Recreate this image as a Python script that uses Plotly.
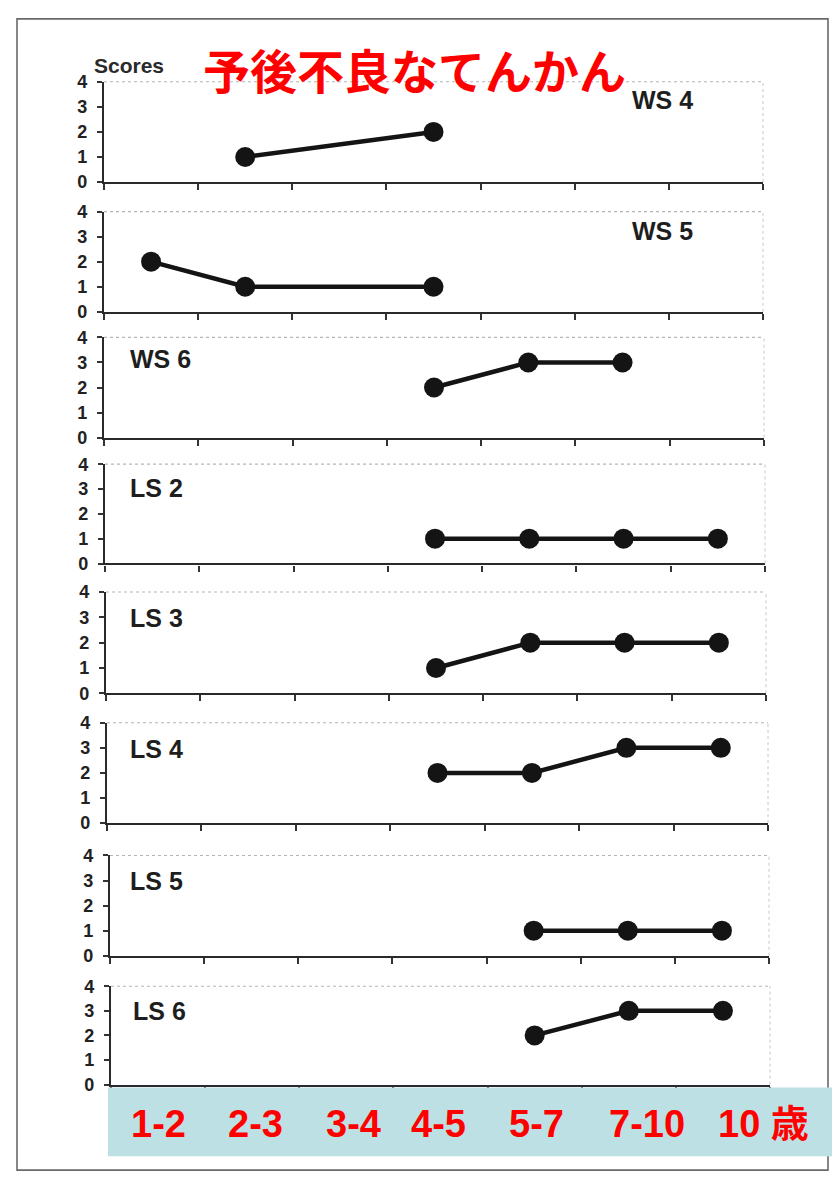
import plotly.graph_objects as go

W, H = 832, 1185

# ---- data ----
categories = ["1-2", "2-3", "3-4", "4-5", "5-7", "7-10", "10"]
bottom_labels = ["1-2", "2-3", "3-4", "4-5", "5-7", "7-10", "10 歳"]
panel_names = ["WS 4", "WS 5", "WS 6", "LS 2", "LS 3", "LS 4", "LS 5", "LS 6"]
ws4 = [None, 1, None, 2, None, None, None]
ws5 = [2, 1, None, 1, None, None, None]
ws6 = [None, None, None, 2, 3, 3, None]
ls2 = [None, None, None, 1, 1, 1, 1]
ls3 = [None, None, None, 1, 2, 2, 2]
ls4 = [None, None, None, 2, 2, 3, 3]
ls5 = [None, None, None, None, 1, 1, 1]
ls6 = [None, None, None, None, 2, 3, 3]
series = [ws4, ws5, ws6, ls2, ls3, ls4, ls5, ls6]
y_ticks = [0, 1, 2, 3, 4]
title_text = "予後不良なてんかん"
y_label = "Scores"

# ---- layout geometry (pixels) ----
panel_px = [(73, 175), (205, 307), (333, 435), (462, 563),
            (592, 695), (725, 827), (860, 962), (993, 1093)]
panel_left = [104, 104, 104, 105, 106, 107, 110, 111]
panel_right = [763, 763, 764, 765, 766, 768, 769, 770]
label_pos = [(630, 92), (630, 225), (128, 355), (128, 486),
             (128, 618), (128, 752), (128, 886), (131, 1018)]
bottom_label_x = [158, 255, 353, 439, 536, 647, 763]


def px(x):
    return x / W


def py(y):
    return 1 - y / H


fig = go.Figure()
shapes = []
annotations = []

for i, (vals, (top, bot)) in enumerate(zip(series, panel_px)):
    n = "" if i == 0 else str(i + 1)
    fig.add_trace(go.Scatter(
        x=categories, y=vals, mode="lines+markers", connectgaps=True,
        line=dict(color="#141414", width=4.5),
        marker=dict(color="#141414", size=20),
        cliponaxis=False, showlegend=False,
        xaxis="x" + n, yaxis="y" + n, hoverinfo="skip"))
    fig.layout["xaxis" + n] = dict(
        domain=[px(panel_left[i]), px(panel_right[i])], anchor="y" + n,
        type="category", categoryorder="array", categoryarray=categories,
        range=[-0.5, 6.5], tickson="boundaries", ticks="outside",
        ticklen=6, tickwidth=1.5, tickcolor="#333",
        showticklabels=False, showgrid=False, zeroline=False,
        showline=True, linecolor="#2a2a2a", linewidth=2.2)
    fig.layout["yaxis" + n] = dict(
        domain=[py(bot), py(top)], anchor="x" + n,
        range=[0, 4], tickvals=y_ticks, ticks="outside", ticklen=5,
        tickwidth=1.5, tickcolor="#333", ticklabelstandoff=6,
        tickfont=dict(family="Liberation Sans", size=18, color="#222222",
                      weight="bold"),
        showgrid=False, zeroline=False,
        showline=True, linecolor="#2a2a2a", linewidth=2.2)
    # faint dotted top and right frame of each panel
    shapes.append(dict(type="line", xref=f"x{n} domain", yref=f"y{n} domain",
                       x0=0, x1=1, y0=1, y1=1,
                       line=dict(color="#b5b5b5", width=1.2, dash="dot")))
    shapes.append(dict(type="line", xref=f"x{n} domain", yref=f"y{n} domain",
                       x0=1, x1=1, y0=0, y1=1,
                       line=dict(color="#c8c8c8", width=1, dash="dot")))
    lx, ly = label_pos[i]
    annotations.append(dict(
        text=panel_names[i], xref="paper", yref="paper",
        x=px(lx), y=py(ly), xanchor="left", yanchor="middle",
        showarrow=False,
        font=dict(family="Liberation Sans", size=25, color="#1e1e1e",
                  weight="bold")))

# outer scanned frame
shapes.append(dict(type="rect", xref="paper", yref="paper",
                   x0=px(17), x1=px(828), y0=py(1180), y1=py(9),
                   line=dict(color="#6a6a6a", width=1.6)))
# bottom band
shapes.append(dict(type="rect", xref="paper", yref="paper",
                   x0=px(108), x1=1, y0=py(1166), y1=py(1096),
                   fillcolor="#bce0e3", line=dict(width=0), layer="above"))

for lbl, bx in zip(bottom_labels, bottom_label_x):
    annotations.append(dict(
        text=lbl, xref="paper", yref="paper", x=px(bx), y=py(1133),
        xanchor="center", yanchor="middle", showarrow=False,
        font=dict(family="Liberation Sans, Noto Sans CJK JP", size=38,
                  color="#ff0000", weight="bold")))

annotations.append(dict(
    text=title_text, xref="paper", yref="paper", x=px(414), y=py(59),
    xanchor="center", yanchor="middle", showarrow=False,
    font=dict(family="Noto Sans CJK JP", size=47, color="#ff0000",
              weight="bold")))
annotations.append(dict(
    text=y_label, xref="paper", yref="paper", x=px(92), y=py(56),
    xanchor="left", yanchor="middle", showarrow=False,
    font=dict(family="Liberation Sans", size=21, color="#2a2a2a",
              weight="bold")))

fig.update_layout(
    width=W, height=H, margin=dict(l=0, r=0, t=0, b=0),
    paper_bgcolor="white", plot_bgcolor="white",
    shapes=shapes, annotations=annotations)

fig.write_html("out.html",
               config={"displayModeBar": False},
               post_script="document.body.style.margin='0';"
                           "document.body.style.overflow='hidden';")
